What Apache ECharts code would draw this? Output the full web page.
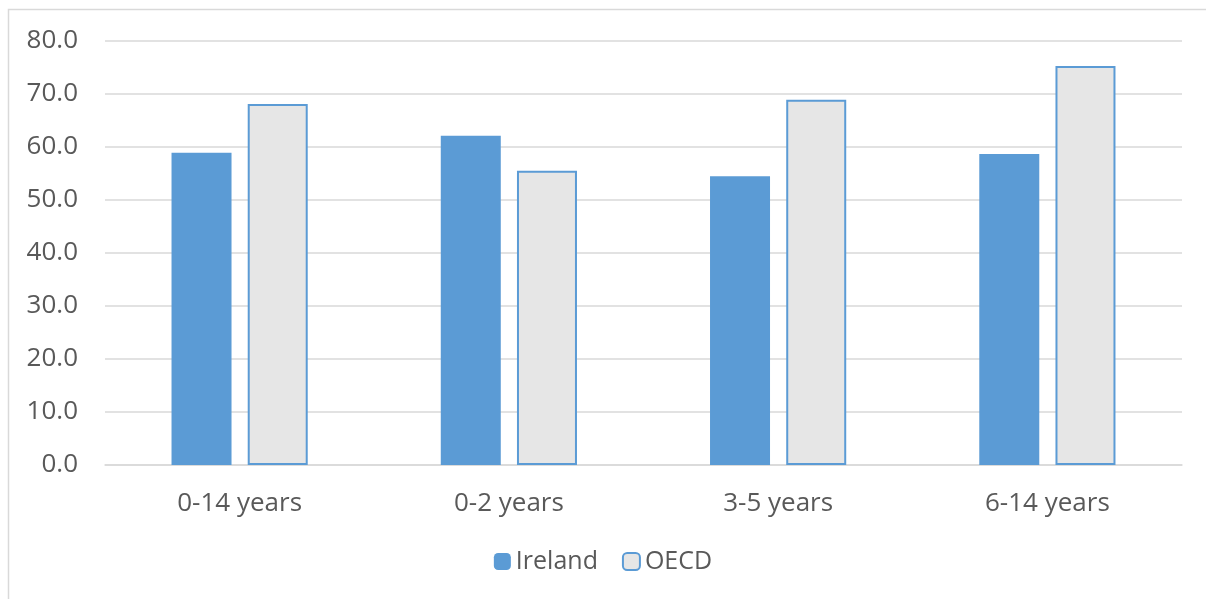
<!DOCTYPE html>
<html>
<head>
<meta charset="utf-8">
<script src="https://cdn.jsdelivr.net/npm/echarts@6/dist/echarts.min.js"></script>
<style>
html, body { margin: 0; padding: 0; background: #fff; }
#chart { width: 1206px; height: 599px; }
</style>
</head>
<body>
<div id="chart"></div>
<script>
const categories = ['0-14 years', '0-2 years', '3-5 years', '6-14 years']
const ireland = [58.9, 62.1, 54.5, 58.7]
const oecd = [68.1, 55.5, 68.9, 75.3]

const textColor = '#595959'
const blue = '#5b9bd5'
const font = 'Open Sans'

const chart = echarts.init(document.getElementById('chart'))
chart.setOption({
	animation: false,
	backgroundColor: '#fff',
	graphic: [{
		type: 'rect',
		shape: { x: 8.5, y: 9.5, width: 1210, height: 600 },
		style: { fill: 'none', stroke: '#d9d9d9', lineWidth: 1.5 },
		silent: true
	}],
	legend: {
		bottom: 20,
		left: 'center',
		itemWidth: 17,
		itemHeight: 17,
		itemGap: 24,
		textStyle: { color: textColor, fontSize: 25, fontFamily: font },
		data: ['Ireland', 'OECD']
	},
	grid: { left: 105, right: 24, top: 41, bottom: 134 },
	xAxis: {
		type: 'category',
		data: categories,
		axisLine: { lineStyle: { color: '#d9d9d9', width: 1.5 } },
		axisTick: { show: false },
		axisLabel: { color: textColor, fontSize: 26, fontFamily: font, margin: 26 }
	},
	yAxis: {
		type: 'value',
		min: 0,
		max: 80,
		interval: 10,
		axisLine: { show: false },
		axisTick: { show: false },
		splitLine: { lineStyle: { color: '#d9d9d9', width: 1.5 } },
		axisLabel: {
			color: textColor, fontSize: 26, fontFamily: font, margin: 27,
			formatter: v => v.toFixed(1)
		}
	},
	series: [{
		name: 'Ireland',
		type: 'bar',
		data: ireland,
		barWidth: 60,
		barGap: '27%',
		itemStyle: { color: blue }
	}, {
		name: 'OECD',
		type: 'bar',
		data: oecd,
		barWidth: 60,
		itemStyle: { color: '#e6e6e6', borderColor: blue, borderWidth: 2 }
	}]
})
</script>
</body>
</html>
